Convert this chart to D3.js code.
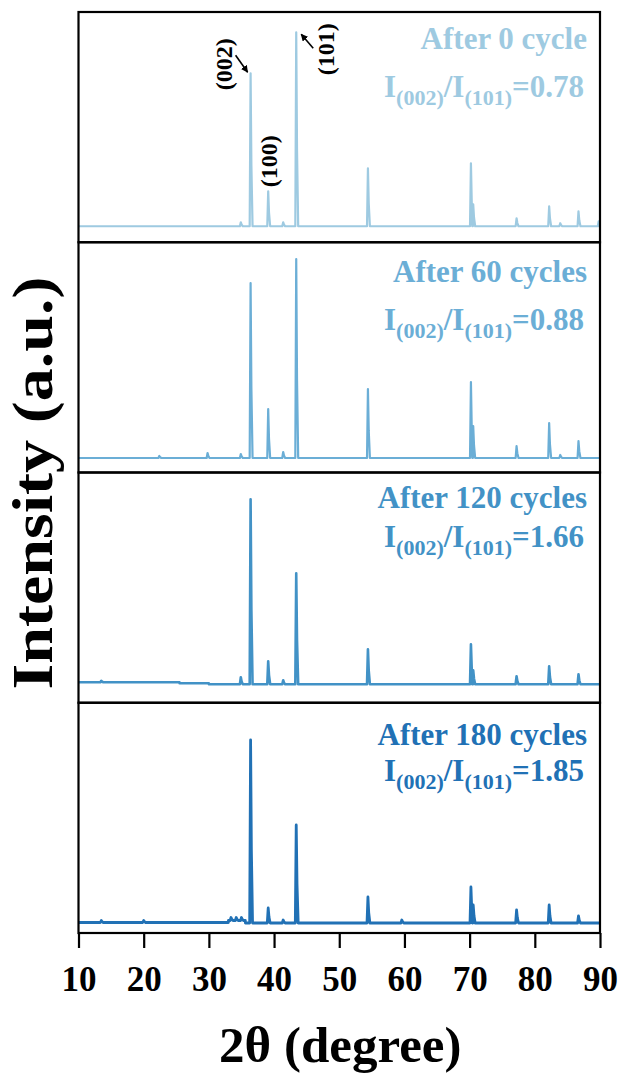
<!DOCTYPE html>
<html>
<head>
<meta charset="utf-8">
<script src="https://cdn.jsdelivr.net/npm/d3@7"></script>
<style>
  html, body { margin: 0; padding: 0; background: #fff; }
  svg { display: block; font-family: "Liberation Serif", "Times New Roman", serif; font-weight: bold; }
</style>
</head>
<body>
<svg id="chart" width="622" height="1076"></svg>
<script>
// ---- data ----
const panelNames = ["After 0 cycle", "After 60 cycles", "After 120 cycles", "After 180 cycles"];
const ratioValues = ["0.78", "0.88", "1.66", "1.85"];
const seriesColors = ["#9ecae1", "#6baed6", "#4292c6", "#2171b5"];
const xTicks = [10, 20, 30, 40, 50, 60, 70, 80, 90];
const hklLabels = ["(002)", "(100)", "(101)"];
const hklPositions = [36.4, 39.1, 43.4];

// background level, [2θ, intensity] (step list)
const background0 = [[10, 16], [90, 16]];
const background1 = [[10, 14.5], [90, 14.5]];
const background2 = [[10, 20.5], [25.5, 19.5], [30, 18.5], [90, 18]];
const background3 = [[10, 10.5], [33, 12.5], [35.6, 10], [90, 9.5]];

// peaks, [2θ, height above background]
const peaks0 = [[34.9, 4], [36.4, 153], [39.1, 35], [41.4, 4], [43.4, 194], [54.4, 58], [70.2, 63], [70.55, 22],
  [77.2, 8], [82.2, 20], [83.9, 3], [86.7, 15], [89.8, 5]];
const peaks1 = [[22.4, 2], [29.8, 5], [34.9, 4], [36.4, 175], [39.1, 49], [41.4, 6], [43.4, 199], [54.4, 69],
  [70.2, 76], [70.55, 32], [77.2, 12], [82.2, 35], [83.9, 3], [86.7, 17]];
const peaks2 = [[13.5, 1.5], [34.9, 7], [36.4, 185], [39.1, 23], [41.4, 4], [43.4, 111], [54.4, 35],
  [70.2, 40], [70.55, 14], [77.2, 8], [82.2, 18], [86.7, 10]];
const peaks3 = [[13.5, 2], [20, 2], [33.4, 3], [34.2, 3], [35.0, 3], [36.4, 183], [39.1, 15], [41.4, 3], [43.4, 98],
  [54.4, 26], [59.6, 3], [70.2, 36], [70.55, 18], [77.2, 13], [82.2, 18], [86.7, 7]];

const backgrounds = [background0, background1, background2, background3];
const peakSets = [peaks0, peaks1, peaks2, peaks3];

// ---- layout ----
const plotLeft = 78.5, plotRight = 600, plotTop = 12, plotBottom = 933;
const panelH = (plotBottom - plotTop) / 4;
const textRight = 587;
const nameOffsets = [37, 39.5, 35.5, 42];
const ratioOffsets = [85, 88, 74.5, 78];
const lineWidths = [2.2, 2.2, 2.6, 2.8];

const svg = d3.select("#chart");

const x = d3.scaleLinear().domain([10, 90]).range([plotLeft, plotRight]);

function levelAt(bg, t) {
  let v = bg[0][1];
  bg.forEach(d => { if (d[0] <= t) v = d[1]; });
  return v;
}

function buildSeries(bg, peaks) {
  const pts = bg.map(d => [d[0], d[1]]);
  peaks.forEach(([p, h]) => {
    const base = levelAt(bg, p);
    pts.push([p - 0.14, base], [p, base + h], [p + 0.12, base + h * 0.4], [p + 0.3, base]);
  });
  // step background: repeat level before each break
  bg.slice(1).forEach((d, i) => pts.push([d[0] - 0.01, bg[i][1]]));
  return pts.sort((a, b) => a[0] - b[0]);
}

const defs = svg.append("defs");
defs.append("marker")
  .attr("id", "arrow")
  .attr("viewBox", "0 0 10 10")
  .attr("refX", 9).attr("refY", 5)
  .attr("markerWidth", 4.5).attr("markerHeight", 4.5)
  .attr("orient", "auto")
  .append("path").attr("d", "M0,0 L10,5 L0,10 Z").attr("fill", "#000");

panelNames.forEach((name, i) => {
  const y0 = plotTop + i * panelH;
  const y = d3.scaleLinear().domain([0, panelH]).range([y0 + panelH, y0]);
  const color = seriesColors[i];

  defs.append("clipPath").attr("id", `clip${i}`)
    .append("rect").attr("x", plotLeft).attr("y", y0).attr("width", plotRight - plotLeft).attr("height", panelH);

  const line = d3.line().x(d => x(d[0])).y(d => y(d[1]));
  svg.append("path")
    .datum(buildSeries(backgrounds[i], peakSets[i]))
    .attr("clip-path", `url(#clip${i})`)
    .attr("fill", "none")
    .attr("stroke", color)
    .attr("stroke-width", lineWidths[i])
    .attr("stroke-linejoin", "round")
    .attr("d", line);

  svg.append("text")
    .attr("x", textRight).attr("y", y0 + nameOffsets[i])
    .attr("text-anchor", "end")
    .attr("font-size", 31)
    .attr("fill", color)
    .text(name);

  const r = svg.append("text")
    .attr("x", textRight - 3).attr("y", y0 + ratioOffsets[i])
    .attr("text-anchor", "end")
    .attr("font-size", 31)
    .attr("fill", color);
  r.append("tspan").text("I");
  r.append("tspan").attr("font-size", 22).attr("dy", 8).text("(002)");
  r.append("tspan").attr("dy", -8).text("/I");
  r.append("tspan").attr("font-size", 22).attr("dy", 8).text("(101)");
  r.append("tspan").attr("dy", -8).text("=" + ratioValues[i]);

  if (i === 0) {
    // hkl annotations on the first pattern
    const tops = hklPositions.map(p => [x(p), y(levelAt(backgrounds[0], p) + peaks0.find(d => d[0] === p)[1])]);
    const labelShift = [[-27, -9], [0, -30], [29, 17]];
    hklLabels.forEach((lab, k) => {
      const [px, py] = tops[k];
      svg.append("text")
        .attr("transform", `translate(${px + labelShift[k][0]},${py + labelShift[k][1]}) rotate(-90)`)
        .attr("text-anchor", "middle")
        .attr("dy", "0.35em")
        .attr("font-size", 24)
        .attr("fill", "#000")
        .text(lab);
    });
    const arrows = [[0, [-15, -18], [-3, -1]], [2, [17, 16], [5, 2]]];
    arrows.forEach(([k, s, e]) => {
      const [px, py] = tops[k];
      svg.append("line")
        .attr("x1", px + s[0]).attr("y1", py + s[1])
        .attr("x2", px + e[0]).attr("y2", py + e[1])
        .attr("stroke", "#000").attr("stroke-width", 1.6)
        .attr("marker-end", "url(#arrow)");
    });
  }

  svg.append("rect")
    .attr("x", plotLeft).attr("y", y0)
    .attr("width", plotRight - plotLeft).attr("height", panelH)
    .attr("fill", "none").attr("stroke", "#000").attr("stroke-width", 2.2);
});

// bottom axis
const axis = svg.append("g")
  .attr("transform", `translate(0,${plotBottom})`)
  .call(d3.axisBottom(x).tickValues(xTicks).tickSize(15).tickPadding(18).tickSizeOuter(0).tickFormat(d3.format("d")));
axis.select(".domain").remove();
axis.selectAll(".tick line").attr("stroke", "#000").attr("stroke-width", 2.2);
axis.selectAll(".tick text")
  .attr("fill", "#000")
  .attr("font-size", 35)
  .attr("font-family", "'Liberation Serif', 'Times New Roman', serif")
  .attr("font-weight", "bold");

svg.append("text")
  .attr("x", (plotLeft + plotRight) / 2 + 1).attr("y", 1062)
  .attr("text-anchor", "middle")
  .attr("font-size", 51)
  .attr("fill", "#000")
  .text("2θ (degree)");

// y title is drawn a bit elongated, as in the figure
svg.append("text")
  .attr("transform", `translate(52,483) rotate(-90) scale(1.18,1)`)
  .attr("text-anchor", "middle")
  .attr("font-size", 56)
  .attr("fill", "#000")
  .text("Intensity (a.u.)");
</script>
</body>
</html>
